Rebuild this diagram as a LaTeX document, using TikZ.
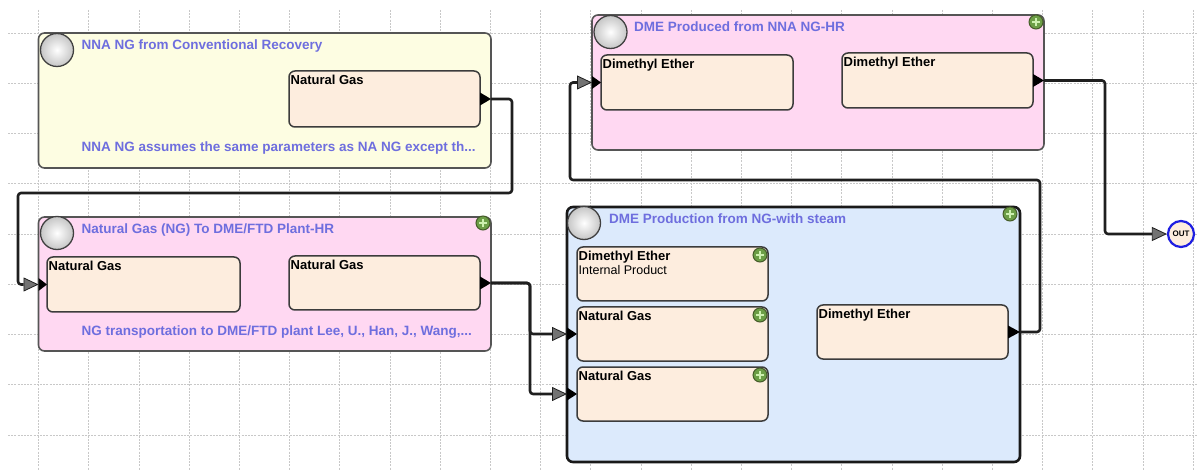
\documentclass[tikz,border=0pt]{standalone}
\usepackage{fontspec}
\setmainfont{Liberation Sans}
\usetikzlibrary{arrows.meta,calc}
\definecolor{ttl}{RGB}{110,110,222}
\definecolor{yelfill}{RGB}{253,253,226}
\definecolor{pinkfill}{RGB}{255,216,242}
\definecolor{bluefill}{RGB}{220,234,252}
\definecolor{peach}{RGB}{253,237,222}
\definecolor{bord}{RGB}{85,85,85}
\definecolor{inbord}{RGB}{60,60,60}
\definecolor{gridc}{RGB}{200,200,200}
\definecolor{arrg}{RGB}{115,115,115}
\definecolor{plusg}{RGB}{108,158,70}
\definecolor{plusb}{RGB}{70,92,42}
\definecolor{plusw}{RGB}{205,240,175}
\definecolor{outblue}{RGB}{30,30,225}
\tikzset{
  gridl/.style={gridc, line width=0.8pt, dash pattern=on 2pt off 1.2pt},
  outerbox/.style={draw=bord, line width=1.6pt, rounded corners=6pt, inner sep=0pt, outer sep=0pt, anchor=north west},
  innerbox/.style={draw=inbord, fill=peach, line width=1.5pt, rounded corners=6pt, inner sep=0pt, outer sep=0pt, anchor=north west},
  ttltext/.style={text=ttl, font=\bfseries\fontsize{13.5}{13.5}\selectfont, inner sep=0pt, anchor=base west},
  lbltext/.style={text=black, font=\bfseries\fontsize{13}{13}\selectfont, inner sep=0pt, anchor=base west},
  subtext/.style={text=black, font=\fontsize{12.5}{12.5}\selectfont, inner sep=0pt, anchor=base west},
  gicon/.style={circle, minimum size=33pt, inner sep=0pt, draw=gray!50!black, line width=1.3pt, inner color=white, outer color=gray!45},
  conn/.style={draw=black!88, line width=2.6pt, rounded corners=3pt, line join=round,
    -{Triangle[length=15pt, width=14pt, fill=arrg, line width=0.8pt]}},
  portc/.style={fill=black},
  plusicon/.pic={
    \fill[plusg, draw=plusb, line width=1pt] (0,0) circle (7);
    \draw[plusw, line width=2pt] (-3.6,0) -- (3.6,0) (0,-3.6) -- (0,3.6);
  }
}
\newcommand\portmark[2]{\fill[portc] ($(#1)+(0,-6.5)$) -- (#2) -- ($(#1)+(0,6.5)$) -- cycle;}
\begin{document}
\begin{tikzpicture}[x=1pt,y=-1pt]
\useasboundingbox[fill=white] (0,0) rectangle (1197,470);
% grid
\foreach \k in {0,...,23} \draw[gridl] ({38.5+50.2*\k},10) -- ({38.5+50.2*\k},470);
\foreach \k in {0,...,8} \draw[gridl] (8,{33+50.25*\k}) -- (1197,{33+50.25*\k});

% Box 1
\node[outerbox, fill=yelfill, minimum width=452.5pt, minimum height=135pt] (b1) at (38.5,33) {};
\node[gicon] (b1c) at ($(b1.north west)+(18.5,17)$) {};
\node[ttltext] (b1t) at ($(b1.north west)+(43,17)$) {NNA NG from Conventional Recovery};
\node[innerbox, minimum width=191pt, minimum height=56pt] (b1ng) at (289,71) {};
\node[lbltext] (b1ngl) at ($(b1ng.north west)+(1.5,13.5)$) {Natural Gas};
\node[ttltext] (b1d) at ($(b1.south west)+(43,-16)$) {NNA NG assumes the same parameters as NA NG except th...};

% Box 2
\node[outerbox, fill=pinkfill, minimum width=452pt, minimum height=135pt] (b2) at (592,15) {};
\node[gicon] (b2c) at ($(b2.north west)+(18.5,17)$) {};
\node[ttltext] (b2t) at ($(b2.north west)+(42,17)$) {DME Produced from NNA NG-HR};
\pic at ($(b2.north east)+(-8,7)$) {plusicon};
\node[innerbox, minimum width=192pt, minimum height=55pt] (b2d1) at (601,55) {};
\node[lbltext] (b2d1l) at ($(b2d1.north west)+(1.5,13.5)$) {Dimethyl Ether};
\node[innerbox, minimum width=191pt, minimum height=55pt] (b2d2) at (842,53) {};
\node[lbltext] (b2d2l) at ($(b2d2.north west)+(1.5,13.5)$) {Dimethyl Ether};

% Box 3
\node[outerbox, fill=pinkfill, minimum width=452.5pt, minimum height=134pt] (b3) at (38.5,217) {};
\node[gicon] (b3c) at ($(b3.north west)+(18.5,16)$) {};
\node[ttltext] (b3t) at ($(b3.north west)+(43,17)$) {Natural Gas (NG) To DME/FTD Plant-HR};
\pic at ($(b3.north east)+(-8,6)$) {plusicon};
\node[innerbox, minimum width=193pt, minimum height=55pt] (b3ng1) at (47,257) {};
\node[lbltext] (b3ng1l) at ($(b3ng1.north west)+(1.5,13.5)$) {Natural Gas};
\node[innerbox, minimum width=191pt, minimum height=54pt] (b3ng2) at (289,256) {};
\node[lbltext] (b3ng2l) at ($(b3ng2.north west)+(1.5,13.5)$) {Natural Gas};
\node[ttltext] (b3d) at ($(b3.south west)+(43,-15)$) {NG transportation to DME/FTD plant Lee, U., Han, J., Wang,...};

% Box 4
\node[outerbox, draw=black!90, line width=2.6pt, fill=bluefill, minimum width=453pt, minimum height=255pt] (b4) at (567,207) {};
\node[gicon] (b4c) at ($(b4.north west)+(17,16)$) {};
\node[ttltext] (b4t) at ($(b4.north west)+(42,17)$) {DME Production from NG-with steam};
\pic at ($(b4.north east)+(-10,7)$) {plusicon};
\node[innerbox, minimum width=191pt, minimum height=54pt] (b4a) at (577,247) {};
\node[lbltext] (b4al) at ($(b4a.north west)+(1.5,13.5)$) {Dimethyl Ether};
\node[subtext] (b4as) at ($(b4a.north west)+(1.5,28)$) {Internal Product};
\pic at ($(b4a.north east)+(-8,8)$) {plusicon};
\node[innerbox, minimum width=191pt, minimum height=54pt] (b4b) at (577,307) {};
\node[lbltext] (b4bl) at ($(b4b.north west)+(1.5,13.5)$) {Natural Gas};
\pic at ($(b4b.north east)+(-8,8)$) {plusicon};
\node[innerbox, minimum width=191pt, minimum height=54pt] (b4c2) at (577,367) {};
\node[lbltext] (b4cl) at ($(b4c2.north west)+(1.5,13.5)$) {Natural Gas};
\pic at ($(b4c2.north east)+(-8,8)$) {plusicon};
\node[innerbox, minimum width=191pt, minimum height=54pt] (b4d) at (817,305) {};
\node[lbltext] (b4dl) at ($(b4d.north west)+(1.5,13.5)$) {Dimethyl Ether};

% OUT
\node[circle, minimum size=26pt, inner sep=0pt, draw=outblue, line width=2.2pt, fill=peach,
  font=\bfseries\fontsize{8}{8}\selectfont] (out) at (1181,234) {OUT};

% connectors
\draw[conn] (b1ng.east -| b1.east) -- ++(21,0) -- ++(0,94) -| ($(b3ng1.west -| b3.west)+(-20.5,0)$) -- (b3ng1.west -| b3.west);
\draw[conn] (b3ng2.east -| b3.east) -- ++(39,0) |- (b4b.west -| b4.west);
\draw[conn] (b3ng2.east -| b3.east) -- ++(39,0) |- (b4c2.west -| b4.west);
\draw[conn] (b4d.east -| b4.east) -- ++(20,0) -- ++(0,-152) -| ($(b2d1.west -| b2.west)+(-22,0)$) -- (b2d1.west -| b2.west);
\draw[conn] (b2d2.east -| b2.east) -- ++(61,0) |- (out.west);

% ports
\portmark{b1ng.east}{b1ng.east -| b1.east}
\portmark{b3ng1.west -| b3.west}{b3ng1.west}
\portmark{b3ng2.east}{b3ng2.east -| b3.east}
\portmark{b4b.west -| b4.west}{b4b.west}
\portmark{b4c2.west -| b4.west}{b4c2.west}
\portmark{b4d.east}{b4d.east -| b4.east}
\portmark{b2d1.west -| b2.west}{b2d1.west}
\portmark{b2d2.east}{b2d2.east -| b2.east}
\end{tikzpicture}
\end{document}
